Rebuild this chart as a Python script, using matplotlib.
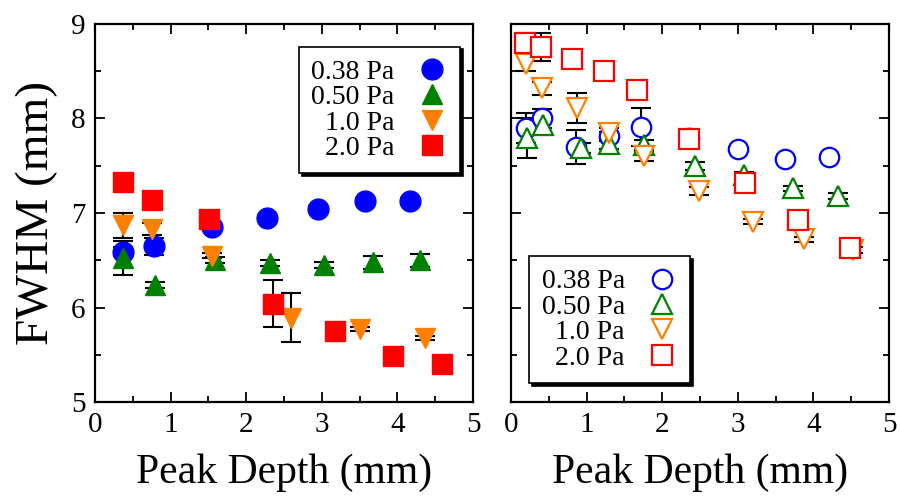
import matplotlib
matplotlib.use("Agg")
import matplotlib.pyplot as plt
from matplotlib.ticker import MultipleLocator

plt.rcParams["font.family"] = ["Liberation Serif", "DejaVu Serif"]

labels = ["0.38 Pa", "0.50 Pa", "1.0 Pa", "2.0 Pa"]
colores = ["#0000ff", "#008000", "#ff8000", "#ff0000"]
marcadores = ["o", "^", "v", "s"]

# painel esquerdo (marcadores cheios)
esq_x = [
    [0.37, 0.78, 1.55, 2.27, 2.95, 3.57, 4.16],
    [0.37, 0.79, 1.59, 2.32, 3.03, 3.68, 4.30],
    [0.37, 0.76, 1.55, 2.59, 3.50, 4.36],
    [0.37, 0.75, 1.51, 2.35, 3.17, 3.94, 4.59],
]
esq_y = [
    [6.59, 6.65, 6.85, 6.95, 7.04, 7.13, 7.13],
    [6.52, 6.24, 6.50, 6.47, 6.45, 6.48, 6.50],
    [6.87, 6.83, 6.55, 5.89, 5.77, 5.68],
    [7.33, 7.14, 6.94, 6.04, 5.75, 5.49, 5.40],
]
esq_err = [
    [0.05, 0.09, 0.03, 0.03, 0.03, 0.03, 0.03],
    [0.18, 0.03, 0.03, 0.03, 0.03, 0.07, 0.07],
    [0.13, 0.06, 0.03, 0.26, 0.02, 0.02],
    [0.03, 0.04, 0.04, 0.25, 0.03, 0.03, 0.03],
]

# painel direito (marcadores vazados)
dir_x = [
    [0.20, 0.41, 0.86, 1.29, 1.72, 2.36, 3.00, 3.63, 4.20],
    [0.21, 0.42, 0.92, 1.30, 1.76, 2.43, 3.08, 3.73, 4.33],
    [0.20, 0.41, 0.87, 1.30, 1.76, 2.49, 3.20, 3.88, 4.52],
    [0.19, 0.40, 0.80, 1.23, 1.66, 2.36, 3.09, 3.80, 4.49],
]
dir_y = [
    [7.90, 8.00, 7.70, 7.81, 7.91, 7.79, 7.68, 7.57, 7.59],
    [7.79, 7.93, 7.69, 7.73, 7.72, 7.50, 7.40, 7.26, 7.18],
    [8.58, 8.32, 8.11, 7.85, 7.60, 7.23, 6.91, 6.72, 6.61],
    [8.80, 8.76, 8.63, 8.50, 8.30, 7.78, 7.32, 6.93, 6.63],
]
dir_err = [
    [0.16, 0.10, 0.18, 0.05, 0.20, 0.03, 0.02, 0.02, 0.02],
    [0.21, 0.10, 0.05, 0.05, 0.05, 0.04, 0.03, 0.03, 0.03],
    [0.08, 0.07, 0.16, 0.05, 0.05, 0.04, 0.03, 0.03, 0.03],
    [0.10, 0.15, 0.03, 0.03, 0.03, 0.03, 0.03, 0.03, 0.03],
]

fig = plt.figure(figsize=(9, 5.01), dpi=100)
ax1 = fig.add_axes([0.1056, 0.1976, 0.42, 0.7545])
ax2 = fig.add_axes([0.5678, 0.1976, 0.42, 0.7545])


def desenhar(ax, xs, ys, errs, cheio):
    for x, y, e, cor, m, lab in zip(xs, ys, errs, colores, marcadores, labels):
        ax.errorbar(x, y, yerr=e, fmt="none", ecolor="black", elinewidth=1.5,
                    capsize=7.5, capthick=1.5, zorder=2)
        if cheio:
            ax.plot(x, y, ls="none", marker=m, ms=15, mfc=cor, mec=cor,
                    label=lab, zorder=3)
        else:
            ax.plot(x, y, ls="none", marker=m, ms=14, mfc="white", mec=cor,
                    mew=1.6, label=lab, zorder=3)


desenhar(ax1, esq_x, esq_y, esq_err, True)
desenhar(ax2, dir_x, dir_y, dir_err, False)

for ax in (ax1, ax2):
    ax.set_xlim(0, 5)
    ax.set_ylim(5, 9)
    ax.xaxis.set_major_locator(MultipleLocator(1))
    ax.xaxis.set_minor_locator(MultipleLocator(0.5))
    ax.yaxis.set_major_locator(MultipleLocator(1))
    ax.yaxis.set_minor_locator(MultipleLocator(0.5))
    ax.tick_params(which="both", direction="in", top=True, right=True,
                   width=1.3, labelsize=21)
    ax.tick_params(which="major", length=7, pad=7)
    ax.tick_params(which="minor", length=4)
    for s in ax.spines.values():
        s.set_linewidth(1.6)
    ax.set_xlabel("Peak Depth (mm)", fontsize=30, labelpad=11)

ax2.tick_params(labelleft=False)
ax1.set_ylabel("FWHM (mm)", fontsize=34, labelpad=9)


def legenda(ax, **kw):
    # markerfirst=False: marcador à direita, textos alinhados à direita
    leg = ax.legend(markerfirst=False, fontsize=20, frameon=True, fancybox=False,
                    shadow={"color": "black", "alpha": 1.0}, edgecolor="black",
                    framealpha=1, handletextpad=0.8, labelspacing=0.0,
                    borderpad=0.45, handlelength=1.1, borderaxespad=0, **kw)
    leg.get_frame().set_linewidth(1.2)
    return leg


legenda(ax1, loc="upper right", bbox_to_anchor=(0.965, 0.94))
legenda(ax2, loc="lower left", bbox_to_anchor=(0.048, 0.05))

fig.savefig("out.png", dpi=100)
